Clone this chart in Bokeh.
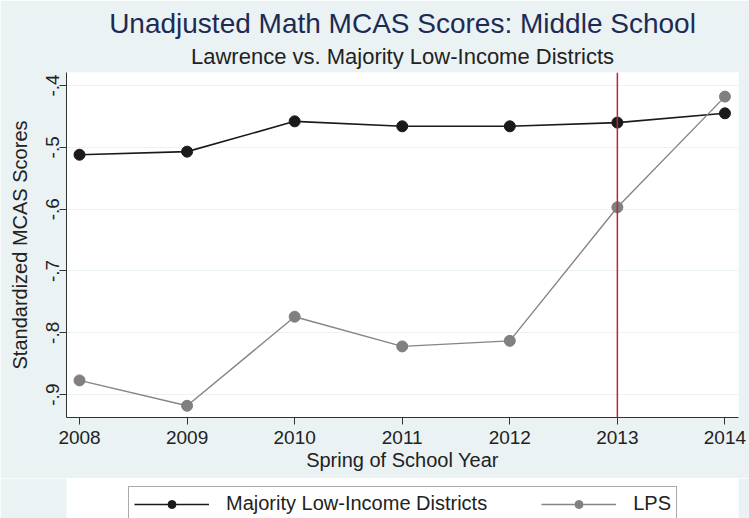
from bokeh.plotting import figure
from bokeh.layouts import column
from bokeh.models import (Range1d, FixedTicker, CustomJSTickFormatter, Span, Legend,
                          LegendItem, Title)
from bokeh.embed import file_html
from bokeh.resources import INLINE

# Data
years = [2008, 2009, 2010, 2011, 2012, 2013, 2014]
majority = [-0.512, -0.507, -0.458, -0.466, -0.466, -0.460, -0.445]
lps = [-0.877, -0.918, -0.774, -0.822, -0.813, -0.597, -0.418]
y_ticks = [-0.9, -0.8, -0.7, -0.6, -0.5, -0.4]
policy_year = 2013
series_names = ["Majority Low-Income Districts", "LPS"]

FONT = "Liberation Sans"
BG = "#EAF2F3"
C_MAJ = "#1a1a1a"
C_LPS = "#808080"
C_LPS_LINE = "#858585"

p = figure(width=749, height=478, output_backend="svg", toolbar_location=None,
           x_range=Range1d(2007.879, 2014.126), y_range=Range1d(-0.937, -0.379),
           min_border_left=66, min_border_right=11, min_border_top=72, min_border_bottom=61)
p.title = None
p.background_fill_color = "white"
p.border_fill_color = BG
p.outline_line_color = None

# Titles
p.add_layout(Title(text="Lawrence vs. Majority Low-Income Districts", align="center",
                   text_font=FONT, text_font_size="22px", text_font_style="normal",
                   text_color="#222222", standoff=7), "above")
p.add_layout(Title(text="Unadjusted Math MCAS Scores: Middle School", align="center",
                   text_font=FONT, text_font_size="28px", text_font_style="normal",
                   text_color="#1c2b54", standoff=0), "above")

# Axes
p.xaxis.ticker = FixedTicker(ticks=years)
p.yaxis.ticker = FixedTicker(ticks=y_ticks)
p.yaxis.formatter = CustomJSTickFormatter(code="return tick.toFixed(1).replace('0.', '.');")
p.yaxis.major_label_orientation = "parallel"
p.xaxis.axis_label = "Spring of School Year"
p.yaxis.axis_label = "Standardized MCAS Scores"
for ax in (p.xaxis, p.yaxis):
    ax.axis_label_text_font = FONT
    ax.axis_label_text_font_size = "20px"
    ax.axis_label_text_font_style = "normal"
    ax.axis_label_text_color = "#222222"
    ax.major_label_text_font = FONT
    ax.major_label_text_font_size = "19px"
    ax.major_label_text_color = "#222222"
    ax.axis_line_color = "#333333"
    ax.major_tick_line_color = "#333333"
    ax.major_tick_out = 7
    ax.major_tick_in = 0
    ax.minor_tick_out = 0
    ax.minor_tick_in = 0
p.xaxis.major_label_standoff = 6
p.xaxis.axis_label_standoff = 2
p.yaxis.major_label_standoff = 0
p.yaxis.axis_label_standoff = 13

p.xgrid.grid_line_color = None
p.ygrid.grid_line_color = BG
p.ygrid.grid_line_width = 1

# Policy line
p.add_layout(Span(location=policy_year, dimension="height", line_color="#C0213A", line_width=1.5))

# Series
p.line(years, majority, line_color=C_MAJ, line_width=1.6)
p.scatter(years, majority, size=11, fill_color=C_MAJ, line_color=C_MAJ)
p.line(years, lps, line_color=C_LPS_LINE, line_width=1.4)
p.scatter(years, lps, size=11, fill_color=C_LPS, line_color=C_LPS)

# Legend strip below (the same series, drawn off-range so only their legend shows)
lf = figure(width=749, height=40, output_backend="svg", toolbar_location=None,
            x_range=Range1d(0, 1), y_range=Range1d(0, 1),
            x_axis_location=None, y_axis_location=None,
            min_border_left=66, min_border_right=11, min_border_top=0, min_border_bottom=0)
lf.title = None
lf.background_fill_alpha = 0
lf.border_fill_color = BG
lf.outline_line_color = None
lf.xgrid.visible = False
lf.ygrid.visible = False
ll1 = lf.line(years, majority, line_color=C_MAJ, line_width=1.6)
lc1 = lf.scatter(years, majority, size=10, fill_color=C_MAJ, line_color=C_MAJ)
ll2 = lf.line(years, lps, line_color=C_LPS_LINE, line_width=1.4)
lc2 = lf.scatter(years, lps, size=10, fill_color=C_LPS, line_color=C_LPS)

legend = Legend(items=[LegendItem(label=series_names[0], renderers=[ll1, lc1]),
                       LegendItem(label=series_names[1], renderers=[ll2, lc2])],
                orientation="horizontal", location=(62, -3),
                label_text_font=FONT, label_text_font_size="20px", label_text_color="#222222",
                glyph_width=75, glyph_height=20, label_standoff=17, spacing=54,
                padding=5, margin=0, border_line_color="#555555", border_line_width=1,
                background_fill_color="white", background_fill_alpha=1.0)
lf.add_layout(legend, "center")

layout = column(p, lf, spacing=0)
open("out.html", "w").write(file_html(layout, INLINE))
